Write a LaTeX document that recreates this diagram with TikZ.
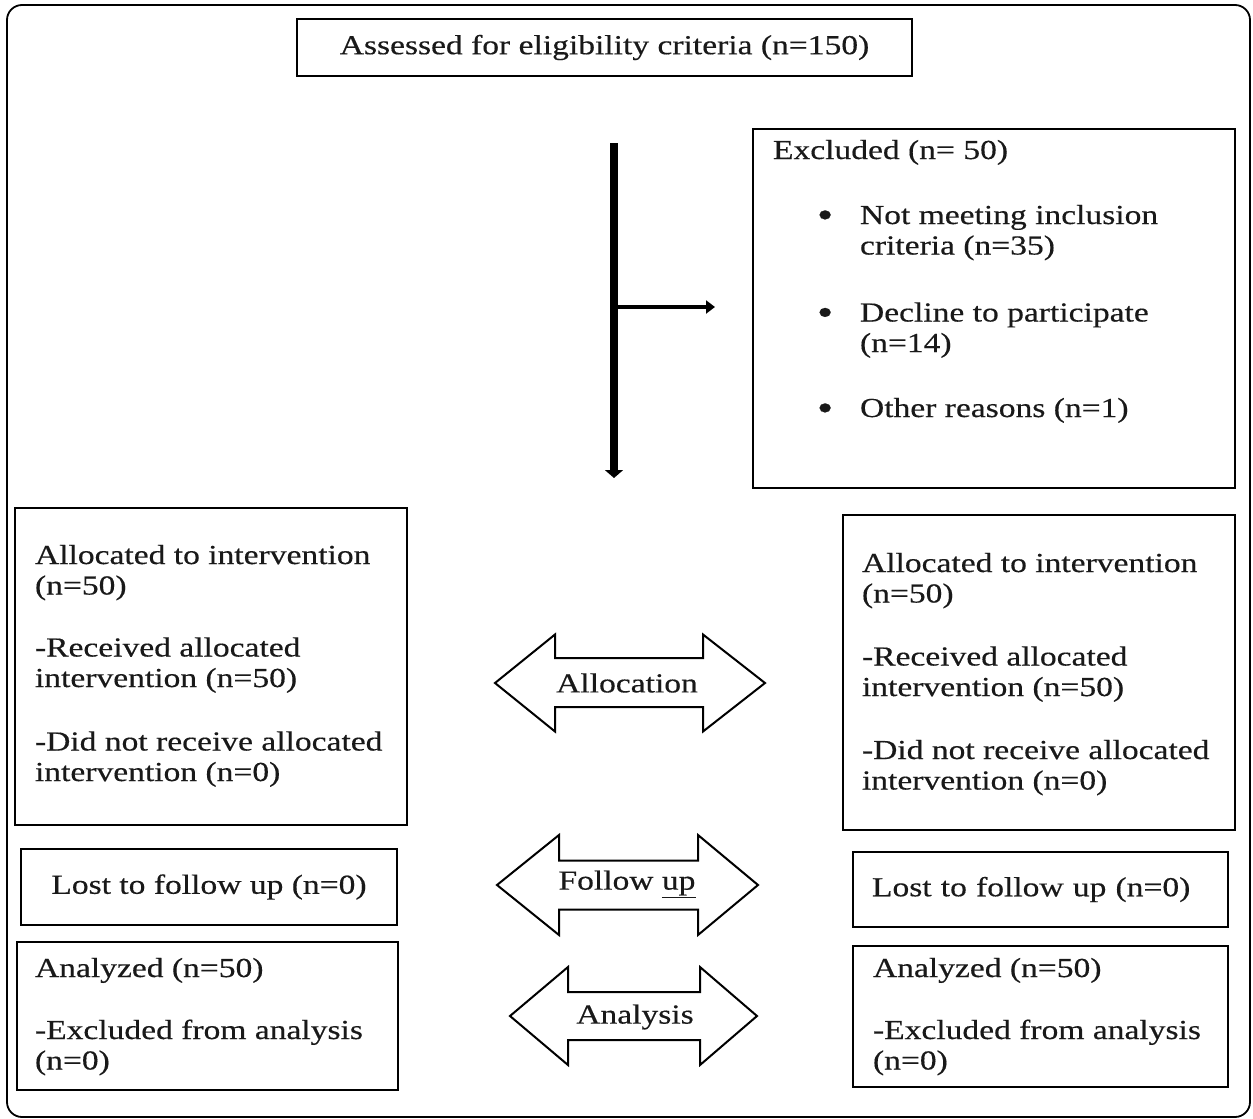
\documentclass[tikz,border=0pt]{standalone}
\usepackage{fontspec}
\setmainfont{Liberation Serif}[FakeStretch=1.22,FakeBold=0.4]
\usetikzlibrary{arrows.meta}
\newcommand{\bigbul}{\raisebox{-3.5pt}{\fontsize{38pt}{38pt}\selectfont\textbullet}}
\begin{document}
\begin{tikzpicture}[x=1pt,y=-1pt,
  every node/.style={font=\fontsize{27.5pt}{30.5pt}\selectfont, inner sep=0pt, outer sep=0pt, text=black!90},
  boxst/.style={draw, line width=2.4pt, rectangle},
  txt/.style={anchor=base west, align=left},
  dbl/.style={draw, line width=2pt, line join=miter},
  lbl/.style={anchor=center}]
\useasboundingbox (0,0) rectangle (1253,1119);
% outer frame
\draw[line width=1.8pt, rounded corners=15pt] (7,5) rectangle (1250,1117);

% top box
\node[boxst, minimum width=615pt, minimum height=57pt] (assess) at (604.5,47.5) {Assessed for eligibility criteria (n=150)};

% excluded box (text node anchored at baseline of its last line)
\node[boxst, minimum width=482pt, minimum height=359pt] (excl) at (994,308.5) {};
\node[txt] (exclt) at (773,417) {Excluded (n= 50)\\[34.5pt]
\hspace*{44pt}\makebox[43pt][l]{\bigbul}Not meeting inclusion\\
\hspace*{87pt}criteria (n=35)\\[36.5pt]
\hspace*{44pt}\makebox[43pt][l]{\bigbul}Decline to participate\\
\hspace*{87pt}(n=14)\\[34.5pt]
\hspace*{44pt}\makebox[43pt][l]{\bigbul}Other reasons (n=1)};

% vertical flow arrow
\coordinate (vtop) at (614,143);
\coordinate (vbot) at (614,478);
\coordinate (hbr) at (614,307);
\coordinate (hend) at (715,307);
\draw[line width=8pt, -{Triangle[width=18pt,length=8pt]}] (vtop) -- (vbot);
\draw[line width=4pt, -{Triangle[width=13pt,length=9pt]}] (hbr) -- (hend);

% allocation boxes
\node[boxst, minimum width=392pt, minimum height=317pt] (allocL) at (211,666.5) {};
\node[txt] (allocLt) at (35,781) {Allocated to intervention\\
(n=50)\\[31.5pt]
-Received allocated\\
intervention (n=50)\\[33pt]
-Did not receive allocated\\
intervention (n=0)};

\node[boxst, minimum width=392pt, minimum height=315pt] (allocR) at (1039,672.5) {};
\node[txt] (allocRt) at (862,789.5) {Allocated to intervention\\
(n=50)\\[32.5pt]
-Received allocated\\
intervention (n=50)\\[32.5pt]
-Did not receive allocated\\
intervention (n=0)};

% lost to follow up
\node[boxst, minimum width=376pt, minimum height=76pt] (lostL) at (209,887) {Lost to follow up (n=0)};
\node[boxst, minimum width=375pt, minimum height=75pt, text width=375pt, align=left, inner xsep=0pt] (lostR) at (1040.5,889.5) {\hspace*{19pt}Lost to follow up (n=0)};

% analyzed
\node[boxst, minimum width=381pt, minimum height=148pt] (anaL) at (207.5,1016) {};
\node[txt] (anaLt) at (35,1069.5) {Analyzed (n=50)\\[31.5pt]
-Excluded from analysis\\
(n=0)};
\node[boxst, minimum width=375pt, minimum height=141pt] (anaR) at (1040.5,1016.5) {};
\node[txt] (anaRt) at (873,1069.5) {Analyzed (n=50)\\[31.5pt]
-Excluded from analysis\\
(n=0)};

% double arrows
\draw[dbl] (495,683) -- (555,634.5) -- (555,658) -- (703,658) -- (703,634.5) -- (765,683)
  -- (703,731.5) -- (703,707) -- (555,707) -- (555,731.5) -- cycle;
\node[lbl] (allocation) at (627,683) {Allocation};

\draw[dbl] (497,885) -- (559,835) -- (559,860.5) -- (698,860.5) -- (698,835) -- (758,885)
  -- (698,935) -- (698,909.5) -- (559,909.5) -- (559,935) -- cycle;
\node[lbl] (followup) at (627,884) {Follow \underline{up}};

\draw[dbl] (510,1016) -- (568,967) -- (568,992) -- (700,992) -- (700,967) -- (757,1016)
  -- (700,1065) -- (700,1040) -- (568,1040) -- (568,1065) -- cycle;
\node[lbl] (analysis) at (635,1017) {Analysis};
\end{tikzpicture}
\end{document}
